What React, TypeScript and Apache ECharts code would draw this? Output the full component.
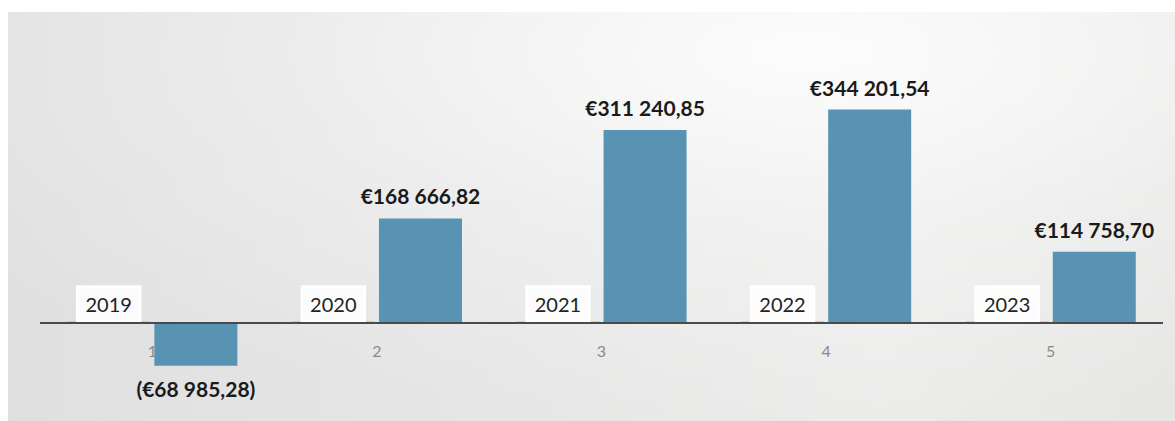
import React, { useEffect, useRef } from "react";
import * as echarts from "echarts";

const categories = ["1", "2", "3", "4", "5"];
const years = [2019, 2020, 2021, 2022, 2023];
const amounts = [-68985.28, 168666.82, 311240.85, 344201.54, 114758.7];

const BAR_COLOR = "#5893b3";

function formatEuro(v: number): string {
  const neg = v < 0;
  const [i, d] = Math.abs(v).toFixed(2).split(".");
  const grouped = i.replace(/\B(?=(\d{3})+(?!\d))/g, " ");
  const s = "€" + grouped + "," + d;
  return neg ? "(" + s + ")" : s;
}

export default function App() {
  const ref = useRef<HTMLDivElement>(null);

  useEffect(() => {
    if (!ref.current) return;
    const chart = echarts.init(ref.current, undefined, { renderer: "svg" });
    chart.setOption({
      animation: false,
      backgroundColor: "#ffffff",
      graphic: {
        elements: [
          {
            type: "rect",
            z: -100,
            silent: true,
            shape: { x: 8, y: 12, width: 1167, height: 409 },
            style: {
              fill: {
                type: "linear",
                x: 0,
                y: 0,
                x2: 1,
                y2: 0,
                colorStops: [
                  { offset: 0, color: "#e0e0e0" },
                  { offset: 0.4, color: "#e6e6e6" },
                  { offset: 0.75, color: "#ececeb" },
                  { offset: 1, color: "#e6e6e5" },
                ],
              },
            },
          },
          {
            type: "rect",
            z: -99,
            silent: true,
            shape: { x: 8, y: 12, width: 1167, height: 409 },
            style: {
              fill: {
                type: "radial",
                x: 0.68,
                y: 0.1,
                r: 0.9,
                colorStops: [
                  { offset: 0, color: "rgba(255,255,255,0.85)" },
                  { offset: 0.5, color: "rgba(255,255,255,0.3)" },
                  { offset: 1, color: "rgba(255,255,255,0)" },
                ],
              },
            },
          },
        ],
      },
      grid: { left: 40, right: 12, top: 75, height: 310, containLabel: false },
      xAxis: {
        type: "category",
        data: categories,
        position: "bottom",
        offset: -62,
        axisLine: { show: false, onZero: false },
        axisTick: { show: false },
        axisLabel: {
          color: "#8a8a8a",
          fontSize: 16,
          fontFamily: "Lato",
          margin: 19,
        },
        splitLine: { show: false },
      },
      yAxis: {
        type: "value",
        min: -100000,
        max: 400000,
        show: false,
        splitLine: { show: false },
      },
      series: [
        {
          name: "Année",
          type: "bar",
          z: 3,
          data: years,
          barWidth: 83,
          barGap: "5%",
          itemStyle: { color: BAR_COLOR },
          label: {
            show: true,
            position: "top",
            distance: 1,
            formatter: (p: any) => String(p.value),
            color: "#222222",
            fontSize: 20,
            fontFamily: "Lato",
            lineHeight: 22,
            backgroundColor: "rgba(255,255,255,0.85)",
            borderColor: "#ffffff",
            borderWidth: 1.5,
            padding: [6, 8, 6, 8],
          },
        },
        {
          name: "Montant",
          type: "bar",
          z: 2,
          data: amounts,
          barWidth: 83,
          barGap: "5%",
          itemStyle: { color: BAR_COLOR },
          label: {
            show: true,
            position: "outside",
            distance: 12,
            formatter: (p: any) => formatEuro(p.value),
            color: "#1a1a1a",
            fontSize: 21,
            fontWeight: "bold",
            fontFamily: "Lato",
          },
          markLine: {
            silent: true,
            symbol: "none",
            label: { show: false },
            lineStyle: { color: "#4a4a4a", width: 2, type: "solid" },
            data: [{ yAxis: 0 }],
          },
        },
      ],
    });
    return () => chart.dispose();
  }, []);

  return (
    <div
      ref={ref}
      style={{ position: "absolute", left: 0, top: 0, width: 1175, height: 421 }}
    />
  );
}
